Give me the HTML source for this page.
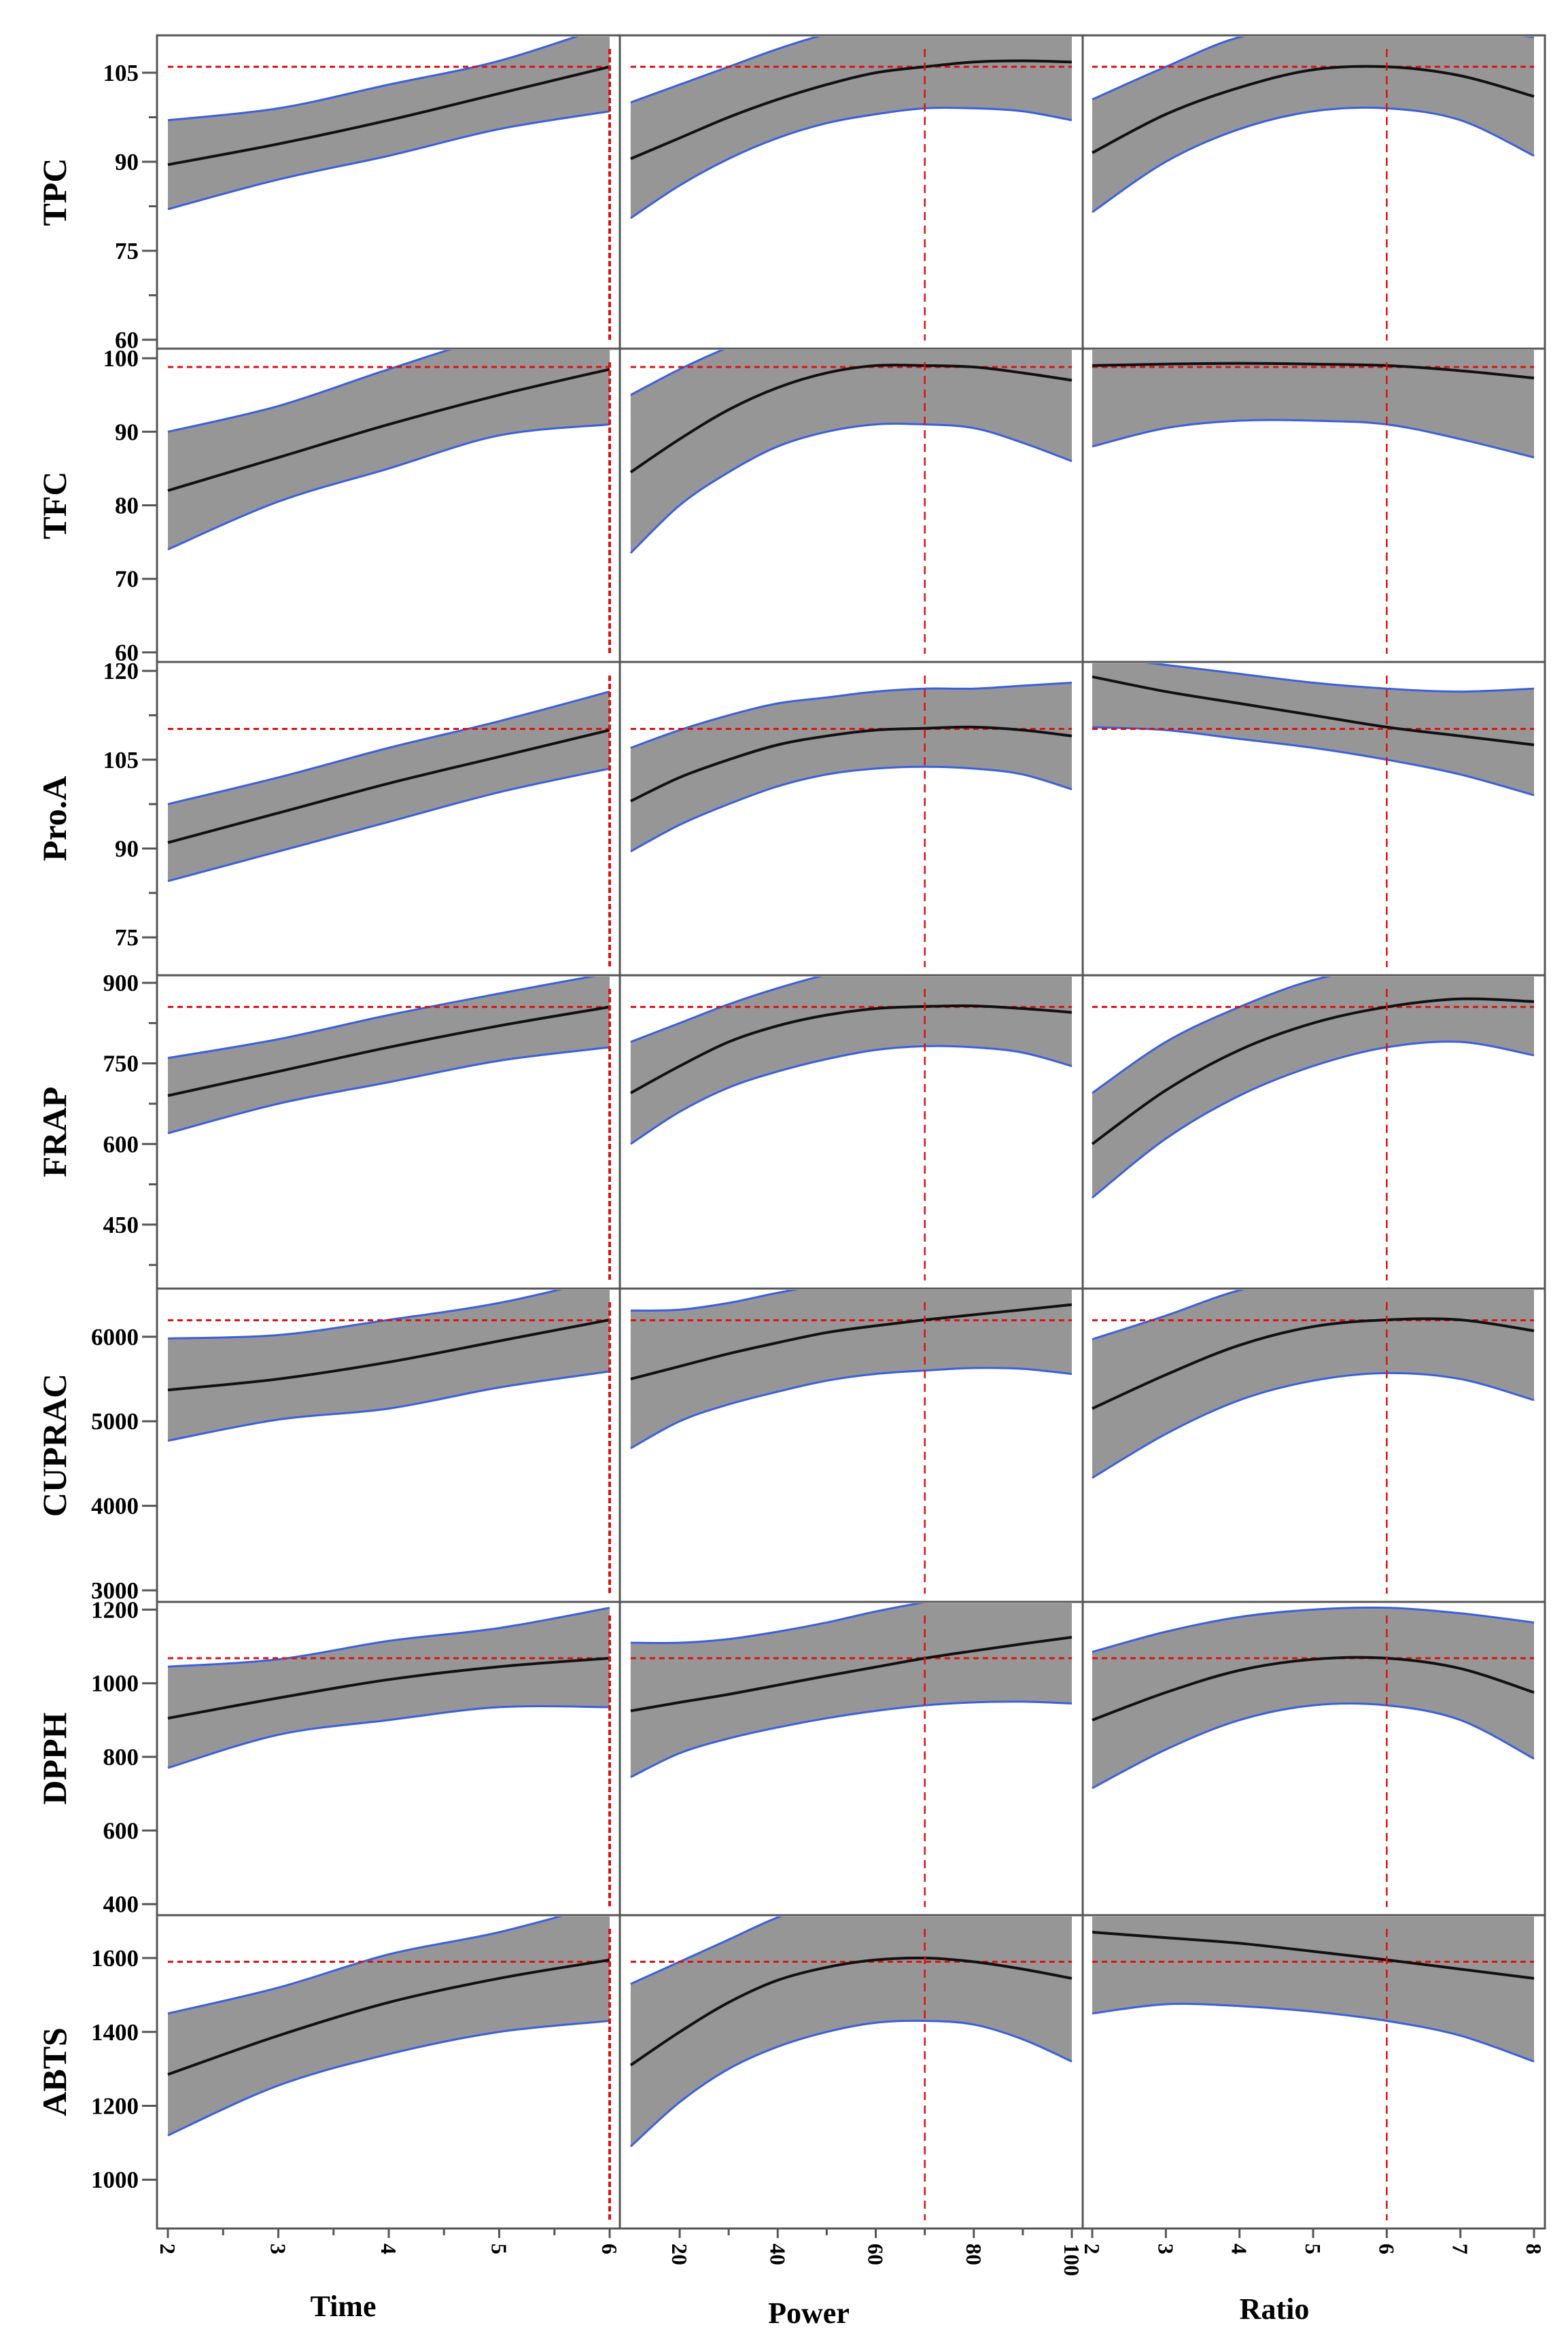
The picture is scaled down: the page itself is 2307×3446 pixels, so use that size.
<!DOCTYPE html>
<html><head><meta charset="utf-8"><style>
html,body{margin:0;padding:0;background:#fff}
svg{display:block}
text{font-family:"Liberation Serif",serif;font-weight:bold;fill:#000}
</style></head><body>
<svg id="chart" width="2307" height="3446" viewBox="0 0 2307 3446" xmlns="http://www.w3.org/2000/svg"></svg>
<script>
// ---- data ----
const rowNames = ["TPC","TFC","Pro.A","FRAP","CUPRAC","DPPH","ABTS"];
const colNames = ["Time","Power","Ratio"];
const timeX = [2,3,4,5,6];
const powerX = [10,20,30,40,50,60,70,80,90,100];
const ratioX = [2,3,4,5,6,7,8];
const timeTicks = [2,3,4,5,6];
const powerTicks = [20,40,60,80,100];
const ratioTicks = [2,3,4,5,6,7,8];
const setX = [6,70,6];
const yTicks = [[105,90,75,60],[100,90,80,70,60],[120,105,90,75],[900,750,600,450],[6000,5000,4000,3000],[1200,1000,800,600,400],[1600,1400,1200,1000]];
const yMinor = [[97.5,82.5,67.5],[],[112.5,97.5,82.5],[825,675,525,375],[],[],[]];
const yTop = [111.3,101.3,121.5,914,6570,1221,1716];
const yBottom = [58.5,58.7,68.6,331,2863,370,868];
const predicted = [106,98.8,110.2,855,6195,1068,1590];

// TPC
const tpcTimeMean=[89.5,93,97,101.5,106], tpcTimeUp=[97,99,103,107,113], tpcTimeLo=[82,87,91,95.5,98.5];
const tpcPowMean=[90.5,94,97.5,100.5,103,105,106,106.8,107,106.8], tpcPowUp=[100,103,106,109,111.5,113,114,114.5,114.5,114], tpcPowLo=[80.5,86,90.5,94,96.5,98,99,99,98.5,97];
const tpcRatMean=[91.5,98,102.5,105.5,106,104.5,101], tpcRatUp=[100.5,106,111,112.5,113,112.5,111], tpcRatLo=[81.5,90,95.5,98.5,99,97,91];
// TFC
const tfcTimeMean=[82,86.5,91,95,98.5], tfcTimeUp=[90,93.5,98.5,103,105], tfcTimeLo=[74,80.5,85,89.5,91];
const tfcPowMean=[84.5,89,93,96,98,99,99,98.8,98,97], tfcPowUp=[95,98.5,101.5,104,106,107,107,107,107,107], tfcPowLo=[73.5,80,84.5,88,90,91,91,90.5,88.5,86];
const tfcRatMean=[99,99.2,99.3,99.2,99,98.3,97.3], tfcRatUp=[110,110,110,110,110,110,110], tfcRatLo=[88,90.5,91.5,91.5,91,89,86.5];
// Pro.A
const proTimeMean=[91,96,101,105.5,110], proTimeUp=[97.5,102,107,111.5,116.5], proTimeLo=[84.5,89.5,94.5,99.5,103.5];
const proPowMean=[98,102,105,107.5,109,110,110.3,110.5,110,109], proPowUp=[107,110,112.5,114.5,115.5,116.5,117,117,117.5,118], proPowLo=[89.5,94,97.5,100.5,102.5,103.5,103.8,103.5,102.5,100];
const proRatMean=[119,116.5,114.5,112.5,110.5,109,107.5], proRatUp=[122.5,121,119.5,118,117,116.5,117], proRatLo=[110.5,110,108.5,107,105,102.5,99];
// FRAP
const frapTimeMean=[690,735,780,820,855], frapTimeUp=[760,795,840,880,918], frapTimeLo=[620,675,715,755,780];
const frapPowMean=[695,745,790,820,840,852,856,857,852,845], frapPowUp=[790,825,860,890,915,930,935,935,935,935], frapPowLo=[600,660,705,735,758,775,782,780,770,745];
const frapRatMean=[600,700,775,825,855,870,865], frapRatUp=[695,790,855,905,930,940,940], frapRatLo=[500,610,690,745,780,790,765];
// CUPRAC
const cupTimeMean=[5370,5500,5700,5950,6200], cupTimeUp=[5980,6020,6200,6400,6700], cupTimeLo=[4770,5020,5150,5400,5590];
const cupPowMean=[5500,5650,5800,5930,6050,6130,6200,6260,6320,6380], cupPowUp=[6310,6320,6400,6520,6620,6700,6750,6800,6800,6800], cupPowLo=[4680,5000,5200,5350,5480,5560,5600,5630,5620,5560];
const cupRatMean=[5150,5550,5900,6120,6200,6200,6070], cupRatUp=[5970,6250,6550,6700,6750,6750,6700], cupRatLo=[4330,4850,5250,5480,5570,5500,5250];
// DPPH
const dppTimeMean=[905,960,1010,1045,1068], dppTimeUp=[1045,1065,1115,1150,1205], dppTimeLo=[770,860,900,935,935];
const dppPowMean=[925,948,970,995,1020,1044,1068,1088,1107,1125], dppPowUp=[1110,1110,1120,1140,1165,1195,1220,1240,1250,1260], dppPowLo=[745,810,850,880,905,925,940,948,950,945];
const dppRatMean=[900,975,1035,1065,1068,1040,975], dppRatUp=[1085,1140,1180,1200,1205,1190,1165], dppRatLo=[715,820,900,940,940,900,795];
// ABTS
const abtTimeMean=[1285,1390,1480,1545,1595], abtTimeUp=[1450,1520,1610,1670,1750], abtTimeLo=[1120,1255,1340,1400,1430];
const abtPowMean=[1310,1400,1480,1540,1575,1595,1600,1590,1570,1545], abtPowUp=[1530,1590,1650,1710,1750,1780,1800,1800,1800,1800], abtPowLo=[1090,1210,1300,1360,1400,1425,1430,1420,1380,1320];
const abtRatMean=[1670,1655,1640,1618,1595,1570,1545], abtRatUp=[1760,1760,1760,1760,1760,1760,1760], abtRatLo=[1450,1475,1470,1455,1430,1390,1320];

const series = [
 [[tpcTimeMean,tpcTimeUp,tpcTimeLo],[tpcPowMean,tpcPowUp,tpcPowLo],[tpcRatMean,tpcRatUp,tpcRatLo]],
 [[tfcTimeMean,tfcTimeUp,tfcTimeLo],[tfcPowMean,tfcPowUp,tfcPowLo],[tfcRatMean,tfcRatUp,tfcRatLo]],
 [[proTimeMean,proTimeUp,proTimeLo],[proPowMean,proPowUp,proPowLo],[proRatMean,proRatUp,proRatLo]],
 [[frapTimeMean,frapTimeUp,frapTimeLo],[frapPowMean,frapPowUp,frapPowLo],[frapRatMean,frapRatUp,frapRatLo]],
 [[cupTimeMean,cupTimeUp,cupTimeLo],[cupPowMean,cupPowUp,cupPowLo],[cupRatMean,cupRatUp,cupRatLo]],
 [[dppTimeMean,dppTimeUp,dppTimeLo],[dppPowMean,dppPowUp,dppPowLo],[dppRatMean,dppRatUp,dppRatLo]],
 [[abtTimeMean,abtTimeUp,abtTimeLo],[abtPowMean,abtPowUp,abtPowLo],[abtRatMean,abtRatUp,abtRatLo]]
];
const xData = [timeX,powerX,ratioX];
const xTickSets = [timeTicks,powerTicks,ratioTicks];
const xMinorSets = [[2.5,3.5,4.5,5.5],[30,50,70,90],[]];

// ---- layout ----
const NS="http://www.w3.org/2000/svg";
const svg=document.getElementById('chart');
const top0=52, rowH=461;
const colL=[231,912,1593], colR=[912,1593,2273];
const xDom=[[2,6],[20,100],[2,8]];
const xPx=[[247,897],[1000,1577],[1607,2257]];
function xs(c,v){const d=xDom[c],p=xPx[c];return p[0]+(v-d[0])/(d[1]-d[0])*(p[1]-p[0]);}
function ys(r,v){const t=top0+r*rowH,b=t+rowH;return t+(yTop[r]-v)/(yTop[r]-yBottom[r])*(b-t);}
function mk(tag,attrs,parent){const e=document.createElementNS(NS,tag);for(const k in attrs)e.setAttribute(k,attrs[k]);(parent||svg).appendChild(e);return e;}
function smooth(pts){let d='M'+pts[0][0]+','+pts[0][1];for(let i=0;i<pts.length-1;i++){const p0=pts[Math.max(0,i-1)],p1=pts[i],p2=pts[i+1],p3=pts[Math.min(pts.length-1,i+2)];
 const c1=[p1[0]+(p2[0]-p0[0])/6,p1[1]+(p2[1]-p0[1])/6],c2=[p2[0]-(p3[0]-p1[0])/6,p2[1]-(p3[1]-p1[1])/6];
 d+=' C'+c1[0]+','+c1[1]+' '+c2[0]+','+c2[1]+' '+p2[0]+','+p2[1];}return d;}
function smoothTail(pts){return smooth(pts).replace(/^M[^ ]+/,'L'+pts[0][0]+','+pts[0][1]);}

const defs=mk('defs',{});
for(let r=0;r<7;r++){
 const t=top0+r*rowH;
 for(let c=0;c<3;c++){
  const cp=mk('clipPath',{id:'cp'+r+'_'+c},defs);
  mk('rect',{x:colL[c]+2,y:t+2,width:colR[c]-colL[c]-4,height:rowH-4},cp);
 }
}
for(let r=0;r<7;r++){
 const t=top0+r*rowH,b=t+rowH;
 const rt=mk('text',{x:0,y:0,'font-size':50,'text-anchor':'middle',transform:`translate(97,${t+rowH/2}) rotate(-90)`});
 
 
 rt.textContent=rowNames[r];
 yTicks[r].forEach(v=>{const y=ys(r,v);
  const tk=mk('line',{x1:209,x2:231,y1:y,y2:y,stroke:'#555','stroke-width':3});
   
  const tl=mk('text',{x:204,y:y+12,'font-size':35,'text-anchor':'end'});
   
  tl.textContent=v;});
 yMinor[r].forEach(v=>{const y=ys(r,v);
  const tk=mk('line',{x1:219,x2:231,y1:y,y2:y,stroke:'#555','stroke-width':3});
   });
 for(let c=0;c<3;c++){
  const g=mk('g',{'clip-path':`url(#cp${r}_${c})`});
  
  
  const xd=xData[c],[mean,up,lo]=series[r][c];
  const upP=xd.map((x,i)=>[xs(c,x),ys(r,up[i])]);
  const loP=xd.map((x,i)=>[xs(c,x),ys(r,lo[i])]);
  const meP=xd.map((x,i)=>[xs(c,x),ys(r,mean[i])]);
  const band=mk('path',{d:smooth(upP)+' '+smoothTail(loP.slice().reverse())+' Z',fill:'#969696',stroke:'none'},g);
   
  const ul=mk('path',{d:smooth(upP),fill:'none',stroke:'#3a5fe0','stroke-width':3},g);
   
  const ll=mk('path',{d:smooth(loP),fill:'none',stroke:'#3a5fe0','stroke-width':3},g);
   
  const hy=ys(r,predicted[r]);
  const hl=mk('line',{x1:xs(c,xd[0]),x2:xs(c,xd[xd.length-1]),y1:hy,y2:hy,stroke:'#dd1111','stroke-width':3,'stroke-dasharray':'8,6'},g);
   
  const ml=mk('path',{d:smooth(meP),fill:'none',stroke:'#111','stroke-width':4},g);
   
  const vx=xs(c,setX[c]);
  const vl=mk('line',{x1:vx,x2:vx,y1:t+20,y2:b-12,stroke:'#dd1111','stroke-width':c==0?4:2.5,'stroke-dasharray':c==0?'8,4':'12,8'},g);
   
  const fr=mk('rect',{x:colL[c],y:t,width:colR[c]-colL[c],height:rowH,fill:'none',stroke:'#555','stroke-width':3});
   
 }
}
const bot=top0+7*rowH;
for(let c=0;c<3;c++){
 xTickSets[c].forEach(v=>{const x=xs(c,v);
  const tk=mk('line',{x1:x,x2:x,y1:bot,y2:bot+14,stroke:'#555','stroke-width':3});
   
  const tl=mk('text',{x:0,y:0,'font-size':32,'text-anchor':'start',transform:`translate(${x-11},${bot+22}) rotate(90)`});
   
  tl.textContent=v;});
 xMinorSets[c].forEach(v=>{const x=xs(c,v);
  const tk=mk('line',{x1:x,x2:x,y1:bot,y2:bot+10,stroke:'#555','stroke-width':3});
   });
 const at=mk('text',{x:[505,1190,1875][c],y:[3408,3418,3412][c],'font-size':44,'text-anchor':'middle'});
  
 at.textContent=colNames[c];
}
</script>
</body></html>
